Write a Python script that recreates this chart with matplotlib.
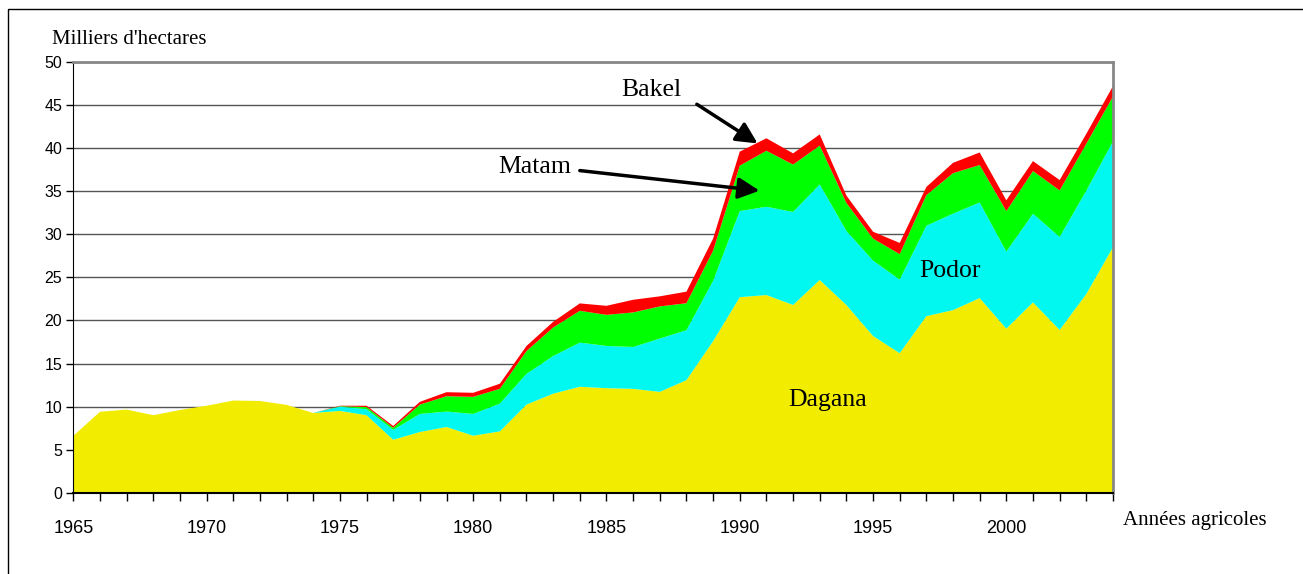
import numpy as np
import matplotlib
matplotlib.use('Agg')
import matplotlib.pyplot as plt

plt.rcParams['font.family'] = 'Liberation Sans'

# Surfaces cultivées par département (milliers d'hectares)
years = list(range(1965, 2005))
dagana = [6.6, 9.4, 9.65, 9.0, 9.6, 10.1, 10.7, 10.65, 10.2, 9.26,
          9.5, 9.0, 6.15, 7.05, 7.63, 6.62, 7.12, 10.23, 11.5, 12.3,
          12.14, 12.06, 11.71, 13.07, 17.6, 22.7, 22.95, 21.8, 24.7, 21.8,
          18.2, 16.2, 20.5, 21.2, 22.6, 19.05, 22.1, 18.9, 23.07, 28.5]
podor = [0, 0, 0, 0, 0, 0, 0, 0, 0, 0,
         0.5, 0.7, 1.15, 2.1, 1.79, 2.53, 3.23, 3.57, 4.37, 5.13,
         4.9, 4.86, 6.19, 5.8, 7.0, 10.0, 10.25, 10.8, 11.1, 8.6,
         8.75, 8.55, 10.5, 11.2, 11.1, 8.95, 10.3, 10.8, 12.0, 12.3]
matam = [0, 0, 0, 0, 0, 0, 0, 0, 0, 0,
         0.05, 0.25, 0.25, 1.08, 1.78, 1.98, 1.71, 2.65, 3.31, 3.69,
         3.61, 4.01, 3.73, 3.13, 3.5, 5.27, 6.5, 5.5, 4.5, 3.25,
         2.55, 2.95, 3.55, 4.7, 4.35, 4.7, 4.95, 5.4, 5.45, 5.2]
bakel = [0, 0, 0, 0, 0, 0, 0, 0, 0, 0,
         0.05, 0.15, 0.2, 0.32, 0.47, 0.47, 0.59, 0.59, 0.66, 0.86,
         1.05, 1.47, 1.17, 1.34, 1.4, 1.63, 1.45, 1.3, 1.3, 0.85,
         0.8, 1.3, 0.95, 1.2, 1.45, 1.25, 1.15, 1.2, 1.15, 1.2]

colors = ['#f2ec00', '#00f8f0', '#00ff00', '#ff0000']

fig = plt.figure(figsize=(13.03, 5.74), dpi=100)
# cadre extérieur
fig.add_artist(plt.Rectangle((8 / 1303, -0.1), 1.2, 1 - 9 / 574 + 0.1,
                             transform=fig.transFigure, fill=False,
                             edgecolor='black', lw=1))

ax = fig.add_axes([0.05626, 0.1416, 0.7979, 0.7503])
ax.stackplot(years, dagana, podor, matam, bakel, colors=colors,
             linewidth=0, zorder=2)

ax.set_xlim(1965, 2004)
ax.set_ylim(0, 50)
ax.set_yticks(range(0, 51, 5))
ax.set_xticks(range(1965, 2001, 5))
ax.set_xticks(range(1965, 2005), minor=True)
ax.yaxis.grid(True, color='#555555', lw=1, zorder=1)
ax.set_axisbelow(True)

ax.tick_params(axis='y', direction='out', length=5, width=1, pad=3, labelsize=11.5)
ax.tick_params(axis='x', which='both', direction='out', length=6, width=1, pad=14, labelsize=13)

ax.spines['left'].set_color('black')
ax.spines['bottom'].set_color('black')
ax.spines['bottom'].set_linewidth(1.5)
ax.spines['top'].set_color('#888888')
ax.spines['right'].set_color('#888888')
ax.spines['top'].set_linewidth(2)
ax.spines['right'].set_linewidth(2)
for s in ax.spines.values():
    s.set_zorder(5)

serif = 'Liberation Serif'
fig.text(52 / 1303, 1 - 40 / 574, "Milliers d'hectares", family=serif,
         fontsize=15, va='center', ha='left')
fig.text(1123 / 1303, 1 - 520 / 574, "Années agricoles", family=serif,
         fontsize=15, va='center', ha='left')

ax.text(1986.7, 46.06, 'Bakel', family=serif, fontsize=18.5, ha='center', va='baseline')
ax.text(1982.31, 37.07, 'Matam', family=serif, fontsize=18.5, ha='center', va='baseline')
ax.text(1997.87, 25.05, 'Podor', family=serif, fontsize=18.5, ha='center', va='baseline', zorder=6)
ax.text(1993.3, 10.03, 'Dagana', family=serif, fontsize=18.5, ha='center', va='baseline', zorder=6)

arrow = dict(arrowstyle='-|>', color='black', lw=2.5, mutation_scale=32,
             shrinkA=0, shrinkB=0)
ax.annotate('', xy=(1990.67, 40.55), xytext=(1988.39, 45.1), arrowprops=arrow, zorder=6)
ax.annotate('', xy=(1990.74, 35.07), xytext=(1984.0, 37.4), arrowprops=arrow, zorder=6)

fig.savefig('out.png', dpi=100)
